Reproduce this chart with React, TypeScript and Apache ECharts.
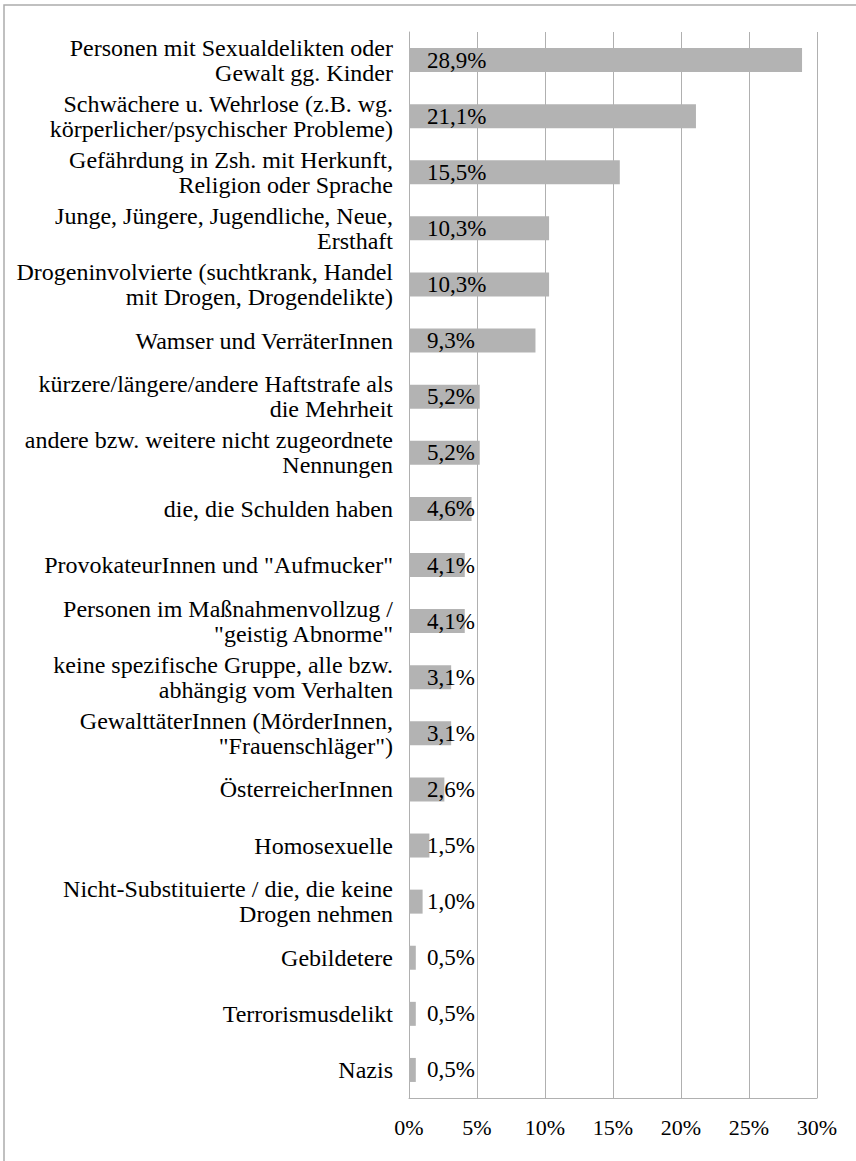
import React, { useEffect, useRef } from "react";
import * as echarts from "echarts";

const categories: string[] = [
  "Personen mit Sexualdelikten oder\nGewalt gg. Kinder",
  "Schwächere u. Wehrlose (z.B. wg.\nkörperlicher/psychischer Probleme)",
  "Gefährdung in Zsh. mit Herkunft,\nReligion oder Sprache",
  "Junge, Jüngere, Jugendliche, Neue,\nErsthaft",
  "Drogeninvolvierte (suchtkrank, Handel\nmit Drogen, Drogendelikte)",
  "Wamser und VerräterInnen",
  "kürzere/längere/andere Haftstrafe als\ndie Mehrheit",
  "andere bzw. weitere nicht zugeordnete\nNennungen",
  "die, die Schulden haben",
  "ProvokateurInnen und \"Aufmucker\"",
  "Personen im Maßnahmenvollzug /\n\"geistig Abnorme\"",
  "keine spezifische Gruppe, alle bzw.\nabhängig vom Verhalten",
  "GewalttäterInnen (MörderInnen,\n\"Frauenschläger\")",
  "ÖsterreicherInnen",
  "Homosexuelle",
  "Nicht-Substituierte / die, die keine\nDrogen nehmen",
  "Gebildetere",
  "Terrorismusdelikt",
  "Nazis",
];

const values: number[] = [
  28.9, 21.1, 15.5, 10.3, 10.3, 9.3, 5.2, 5.2, 4.6, 4.1, 4.1, 3.1, 3.1, 2.6,
  1.5, 1.0, 0.5, 0.5, 0.5,
];

const axisMin = 0;
const axisMax = 30;
const axisInterval = 5;

const FONT = "Liberation Serif";
const GRAY = "#b0b0b0";

export default function App() {
  const ref = useRef<HTMLDivElement>(null);

  useEffect(() => {
    if (!ref.current) return;
    const chart = echarts.init(ref.current, undefined, { renderer: "svg" });
    chart.setOption({
      animation: false,
      backgroundColor: "#ffffff",
      graphic: [
        {
          type: "rect",
          shape: { x: 4, y: 5, width: 900, height: 1200 },
          style: { fill: "none", stroke: "#acacac", lineWidth: 1.5 },
          silent: true,
        },
      ],
      grid: {
        left: 409,
        right: 39,
        top: 32,
        bottom: 63,
        containLabel: false,
      },
      xAxis: {
        type: "value",
        min: axisMin,
        max: axisMax,
        interval: axisInterval,
        axisLine: { show: true, lineStyle: { color: GRAY, width: 1 } },
        axisTick: { show: false },
        splitLine: { show: true, lineStyle: { color: GRAY, width: 1 } },
        axisLabel: {
          formatter: "{value}%",
          fontFamily: FONT,
          fontSize: 22,
          color: "#000",
          margin: 18,
        },
      },
      yAxis: {
        type: "category",
        data: categories,
        inverse: true,
        axisLine: { show: true, lineStyle: { color: GRAY, width: 1 } },
        axisTick: { show: false },
        splitLine: { show: false },
        axisLabel: {
          fontFamily: FONT,
          fontSize: 24,
          lineHeight: 25,
          color: "#000",
          margin: 16,
          interval: 0,
          align: "right",
        },
      },
      series: [
        {
          type: "bar",
          data: values,
          barWidth: 24,
          itemStyle: { color: "#b3b3b3" },
          label: {
            show: true,
            position: [18, "50%"],
            align: "left",
            verticalAlign: "middle",
            fontFamily: FONT,
            fontSize: 23,
            color: "#000",
            formatter: (p: any) =>
              Number(p.value).toFixed(1).replace(".", ",") + "%",
          },
        },
      ],
    });
    return () => chart.dispose();
  }, []);

  return (
    <div
      ref={ref}
      style={{ position: "absolute", left: 0, top: 0, width: 856, height: 1161 }}
    />
  );
}
